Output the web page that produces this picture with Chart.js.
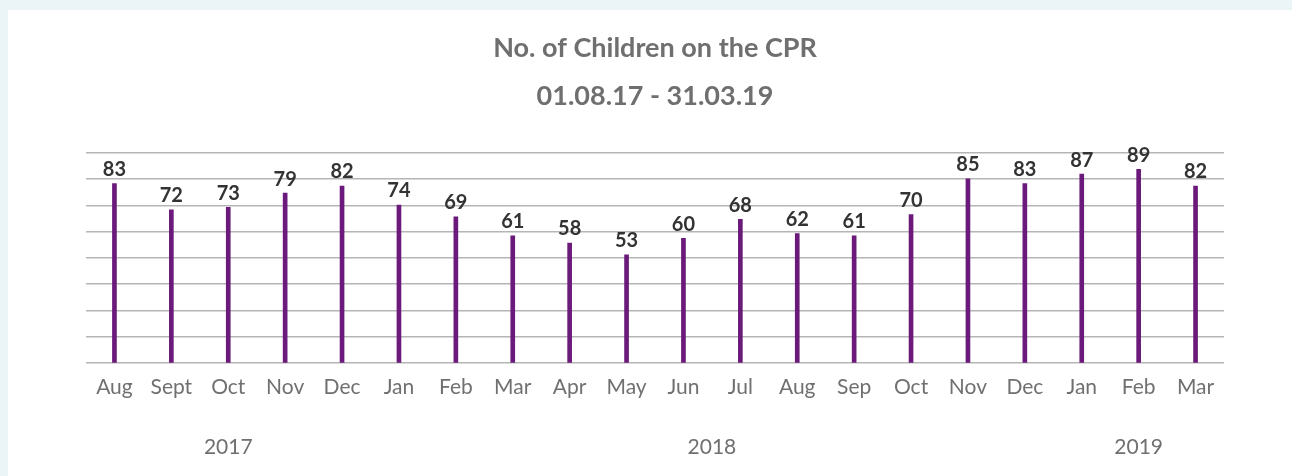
<!DOCTYPE html>
<html lang="en">
<head>
  <meta charset="UTF-8" />
  <title>No. of Children on the CPR</title>
  <script src="https://cdn.jsdelivr.net/npm/chart.js"></script>
  <style>
    html, body {
      margin: 0;
      padding: 0;
      background: #ebf5f7;
      width: 1292px;
      height: 476px;
      overflow: hidden;
    }
    #panel {
      position: absolute;
      left: 8px;
      top: 10px;
      right: 0;
      bottom: 0;
      background: #ffffff;
    }
    #chart-container {
      position: absolute;
      left: 0;
      top: 0;
      width: 1240px;
      height: 466px;
    }
  </style>
</head>
<body>
  <div id="panel">
    <div id="chart-container">
      <canvas id="chart"></canvas>
    </div>
  </div>

  <script>
    const months = ['Aug', 'Sept', 'Oct', 'Nov', 'Dec', 'Jan', 'Feb', 'Mar', 'Apr', 'May',
                    'Jun', 'Jul', 'Aug', 'Sep', 'Oct', 'Nov', 'Dec', 'Jan', 'Feb', 'Mar'];
    const children = [83, 72, 73, 79, 82, 74, 69, 61, 58, 53, 60, 68, 62, 61, 70, 85, 83, 87, 89, 82];
    const years = ['2017', '2018', '2019'];
    const yearCentres = [2, 10.5, 18];   // middle of each year's months (category index)

    const yMin = 7.5, yMax = 96, gridLines = 9;

    // value labels above the bars + year row under the month labels
    const extraText = {
      id: 'extraText',
      afterDatasetsDraw(chart) {
        const ctx = chart.ctx;
        const x = chart.scales.x;
        ctx.save();
        ctx.font = 'bold 20px Lato';
        ctx.fillStyle = '#333333';
        ctx.textAlign = 'center';
        ctx.textBaseline = 'bottom';
        chart.getDatasetMeta(0).data.forEach((bar, i) => {
          ctx.fillText(children[i], bar.x, bar.y - 4);
        });

        ctx.font = '21px Lato';
        ctx.fillStyle = '#707070';
        ctx.textBaseline = 'middle';
        years.forEach((y, i) => {
          ctx.fillText(y, x.getPixelForValue(yearCentres[i]), chart.chartArea.bottom + 84);
        });
        ctx.restore();
      }
    };

    const ctx = document.getElementById('chart').getContext('2d');
    new Chart(ctx, {
      type: 'bar',
      data: {
        labels: months,
        datasets: [{
          data: children,
          backgroundColor: '#6b1a7b',
          barThickness: 4
        }]
      },
      plugins: [extraText],
      options: {
        responsive: true,
        maintainAspectRatio: false,
        animation: false,
        layout: { padding: { left: 78, right: 24, top: 0, bottom: 72 } },
        plugins: {
          legend: { display: false },
          tooltip: { enabled: false },
          title: {
            display: true,
            text: 'No. of Children on the CPR',
            color: '#6f6f6f',
            font: { family: 'Lato', size: 27, weight: 'bold' },
            padding: { top: 22, bottom: 16 }
          },
          subtitle: {
            display: true,
            text: '01.08.17 - 31.03.19',
            color: '#6f6f6f',
            font: { family: 'Lato', size: 27, weight: 'bold' },
            padding: { top: 0, bottom: 40 }
          }
        },
        scales: {
          x: {
            grid: { display: false },
            border: { display: false },
            ticks: {
              color: '#707070',
              font: { family: 'Lato', size: 21 },
              padding: 4,
              maxRotation: 0,
              autoSkip: false
            }
          },
          y: {
            min: yMin,
            max: yMax,
            afterBuildTicks: scale => {
              scale.ticks = Array.from({ length: gridLines }, (_, i) => ({
                value: yMin + i * (yMax - yMin) / (gridLines - 1)
              }));
            },
            grid: { color: '#b5b5b5', lineWidth: 1.6, drawTicks: false },
            border: { display: false },
            ticks: { display: false }
          }
        }
      }
    });
  </script>
</body>
</html>
